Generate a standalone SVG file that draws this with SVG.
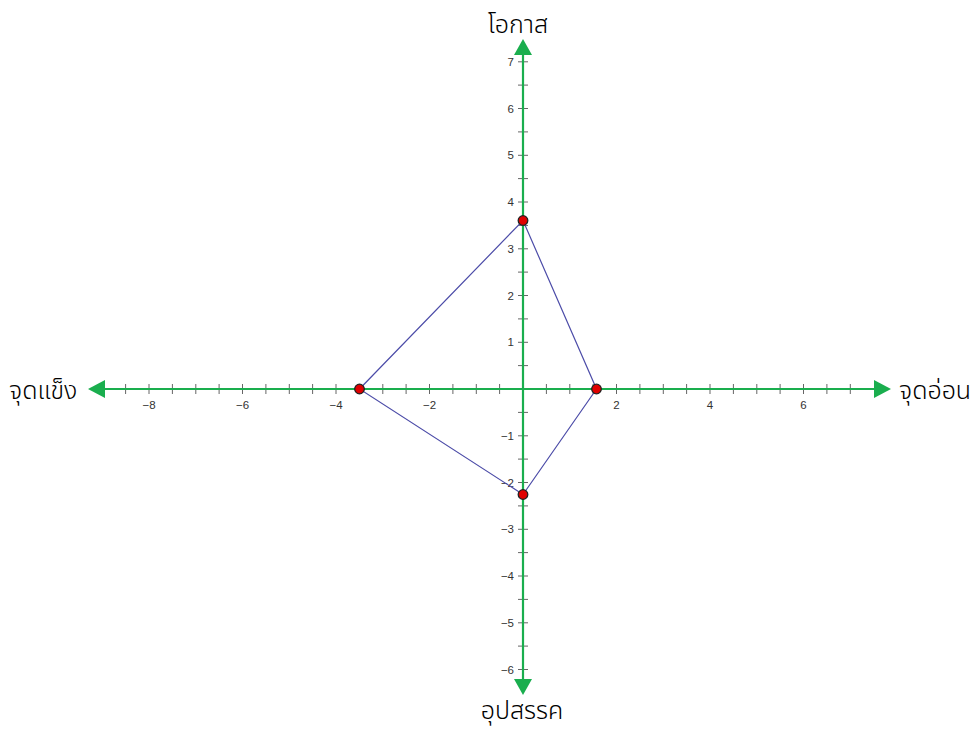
<svg xmlns="http://www.w3.org/2000/svg" width="973" height="731" viewBox="0 0 973 731">
<style>
.axis{stroke:#1aae4e;stroke-width:2.2;fill:none}
.arrow{fill:#1aae4e}
.tick{stroke:#666;stroke-width:1;fill:none}
.tl{font-family:"Liberation Sans",Arial,sans-serif;font-size:11.5px;fill:#333}
.title{font-family:"Noto Sans Thai","Tahoma","Leelawadee UI",sans-serif;font-size:25px;font-weight:300;fill:#000}
.poly{stroke:#4c4ca8;stroke-width:1.2;fill:none}
.pt{fill:#e00000;stroke:#222;stroke-width:1.3}
</style>
<rect width="973" height="731" fill="#fff"/>
<g id="ticks" class="tick">
<path d="M125.6 384V394M149 384V394M172.4 384V394M195.8 384V394M219.1 384V394M242.5 384V394M265.9 384V394M289.3 384V394M312.6 384V394M336 384V394M359.4 384V394M382.8 384V394M406.1 384V394M429.5 384V394M452.9 384V394M476.3 384V394M499.6 384V394M546.4 384V394M569.8 384V394M593.1 384V394M616.5 384V394M639.9 384V394M663.3 384V394M686.6 384V394M710 384V394M733.4 384V394M756.8 384V394M780.1 384V394M803.5 384V394M826.9 384V394M850.3 384V394"/>
<path d="M518 61.8H528M518 85.1H528M518 108.5H528M518 131.9H528M518 155.3H528M518 178.6H528M518 202H528M518 225.4H528M518 248.8H528M518 272.1H528M518 295.5H528M518 318.9H528M518 342.3H528M518 365.6H528M518 412.4H528M518 435.8H528M518 459.1H528M518 482.5H528M518 505.9H528M518 529.3H528M518 552.6H528M518 576H528M518 599.4H528M518 622.8H528M518 646.1H528M518 669.5H528"/>
</g>
<g id="axes">
<path class="axis" d="M100 389H877M523 52V681"/>
<path class="arrow" d="M88 389L105 380L105 398Z"/>
<path class="arrow" d="M891 389L874 380L874 398Z"/>
<path class="arrow" d="M523 39L514 55L532 55Z"/>
<path class="arrow" d="M523 695L514 679L532 679Z"/>
</g>
<g id="tick-labels" class="tl">
<g text-anchor="middle">
<text x="149" y="409">−8</text>
<text x="242.5" y="409">−6</text>
<text x="336" y="409">−4</text>
<text x="429.5" y="409">−2</text>
<text x="616.5" y="409">2</text>
<text x="710" y="409">4</text>
<text x="803.5" y="409">6</text>
</g>
<g text-anchor="end">
<text x="514" y="65.8">7</text>
<text x="514" y="112.5">6</text>
<text x="514" y="159.3">5</text>
<text x="514" y="206">4</text>
<text x="514" y="252.8">3</text>
<text x="514" y="299.5">2</text>
<text x="514" y="346.3">1</text>
<text x="514" y="439.8">−1</text>
<text x="514" y="486.5">−2</text>
<text x="514" y="533.3">−3</text>
<text x="514" y="580">−4</text>
<text x="514" y="626.8">−5</text>
<text x="514" y="673.5">−6</text>
</g>
</g>
<g id="quadrilateral">
<path class="poly" d="M523 220.5L596.5 389L523 494.5L359.5 389Z"/>
</g>
<g id="point-A"><circle class="pt" cx="523" cy="220.5" r="4.8"/></g>
<g id="point-B"><circle class="pt" cx="596.5" cy="389" r="4.8"/></g>
<g id="point-C"><circle class="pt" cx="523" cy="494.5" r="4.8"/></g>
<g id="point-D"><circle class="pt" cx="359.5" cy="389" r="4.8"/></g>
<g id="label-top"><text class="title" x="518" y="33" text-anchor="middle">โอกาส</text></g>
<g id="label-bottom"><text class="title" x="522" y="719" text-anchor="middle">อุปสรรค</text></g>
<g id="label-left"><text class="title" x="9" y="399">จุดแข็ง</text></g>
<g id="label-right"><text class="title" x="899" y="399">จุดอ่อน</text></g>
</svg>
